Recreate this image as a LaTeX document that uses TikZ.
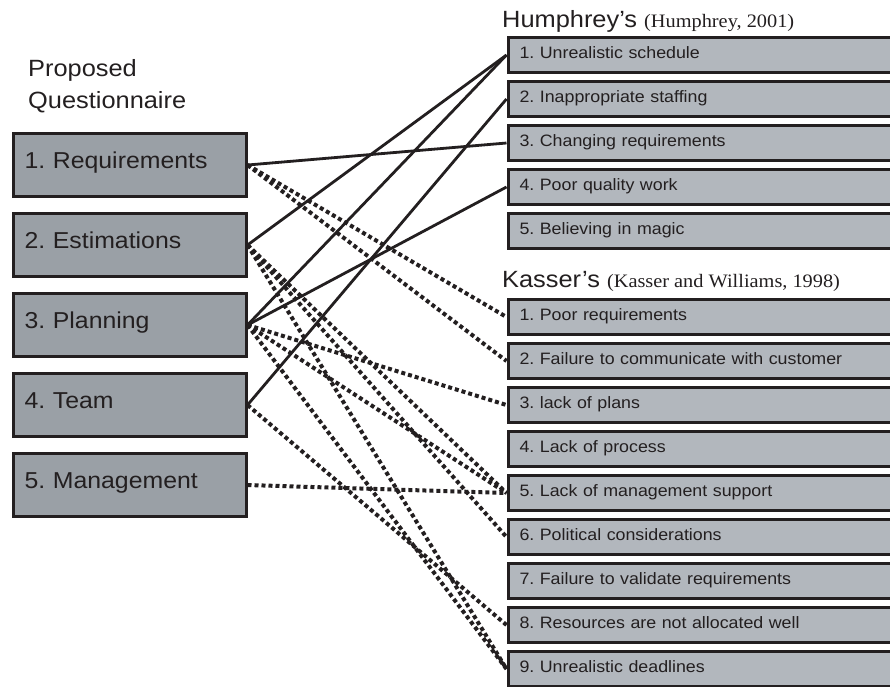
\documentclass[tikz,border=0pt]{standalone}
\usepackage{fontspec}
\setmainfont{Liberation Serif}[FakeStretch=1.07]
\setsansfont{Liberation Sans}[FakeStretch=1.08]
\frenchspacing
\definecolor{LineClr}{RGB}{35,31,32}
\definecolor{LeftClr}{RGB}{154,160,166}
\definecolor{RightClr}{RGB}{178,183,189}
\newcommand\CiteFnt{\rmfamily\fontsize{19}{22}\selectfont}
\tikzset{
  qbox/.style={draw=LineClr,line width=3pt,fill=LeftClr,anchor=west,minimum height=63pt,
    text width=210pt,inner xsep=11.5pt,inner ysep=0pt,text height=0.72em,text depth=0pt,
    text=LineClr,font=\sffamily\fontsize{23}{28}\selectfont},
  rbox/.style={draw=LineClr,line width=3pt,fill=RightClr,anchor=west,minimum height=35pt,
    text width=377pt,inner xsep=11.5pt,inner ysep=0pt,text height=0.72em,text depth=0pt,
    text=LineClr,font=\sffamily\fontsize{16.5}{20}\selectfont},
  hdr/.style={inner sep=0pt,text=LineClr,font=\sffamily\fontsize{23.5}{32}\selectfont},
  link/.style={draw=LineClr,line width=2.8pt},
  dotlink/.style={draw=LineClr,line width=4pt,dash pattern=on 4pt off 3pt},
}

\begin{document}
\begin{tikzpicture}[x=1pt,y=-1pt]
\useasboundingbox (0,0) rectangle (890,686);
\clip (0,0) rectangle (890,686);

\node[hdr,anchor=north west,align=left] (prop) at (28,59) {Proposed\\Questionnaire};
\node[hdr,anchor=base west] (hum) at (502,27) {Humphrey’s {\CiteFnt (Humphrey, 2001)}};
\node[hdr,anchor=base west] (kas) at (502,287) {Kasser’s {\CiteFnt (Kasser and Williams, 1998)}};

\node[qbox] (q1) at (11.5,165) {1. Requirements};
\node[qbox] (q2) at (11.5,245) {2. Estimations};
\node[qbox] (q3) at (11.5,325) {3. Planning};
\node[qbox] (q4) at (11.5,405) {4. Team};
\node[qbox] (q5) at (11.5,485) {5. Management};

\node[rbox] (h1) at (506.5,55) {1. Unrealistic schedule};
\node[rbox] (h2) at (506.5,99) {2. Inappropriate staffing};
\node[rbox] (h3) at (506.5,143) {3. Changing requirements};
\node[rbox] (h4) at (506.5,187) {4. Poor quality work};
\node[rbox] (h5) at (506.5,231) {5. Believing in magic};

\node[rbox] (k1) at (506.5,317) {1. Poor requirements};
\node[rbox] (k2) at (506.5,361) {2. Failure to communicate with customer};
\node[rbox] (k3) at (506.5,405) {3. lack of plans};
\node[rbox] (k4) at (506.5,449) {4. Lack of process};
\node[rbox] (k5) at (506.5,493) {5. Lack of management support};
\node[rbox] (k6) at (506.5,537) {6. Political considerations};
\node[rbox] (k7) at (506.5,581) {7. Failure to validate requirements};
\node[rbox] (k8) at (506.5,625) {8. Resources are not allocated well};
\node[rbox] (k9) at (506.5,669) {9. Unrealistic deadlines};

\draw[link] (q1.east) -- (h3.west);
\draw[link] (q2.east) -- (h1.west);
\draw[link] (q3.east) -- (h1.west);
\draw[link] (q3.east) -- (h4.west);
\draw[link] (q4.east) -- (h2.west);

\draw[dotlink] (q1.east) -- (k1.west);
\draw[dotlink] (q1.east) -- (k2.west);
\draw[dotlink] (q2.east) -- (k5.west);
\draw[dotlink] (q2.east) -- (k6.west);
\draw[dotlink] (q2.east) -- (k9.west);
\draw[dotlink] (q3.east) -- (k3.west);
\draw[dotlink] (q3.east) -- (k5.west);
\draw[dotlink] (q3.east) -- (k9.west);
\draw[dotlink] (q4.east) -- (k8.west);
\draw[dotlink] (q5.east) -- (k5.west);
\end{tikzpicture}
\end{document}
